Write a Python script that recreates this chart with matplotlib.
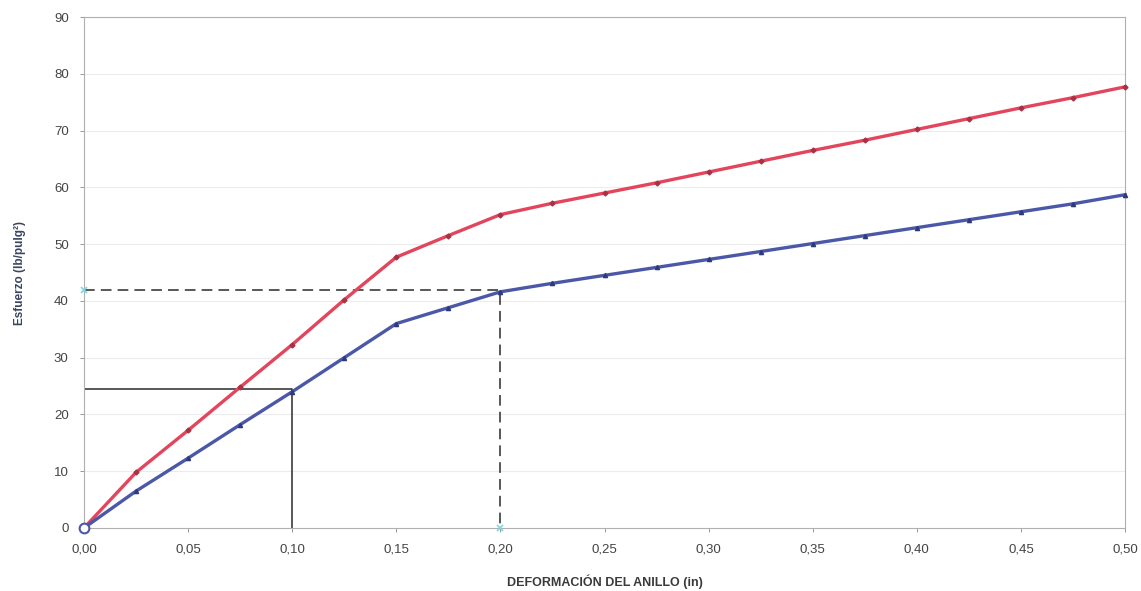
import numpy as np
import matplotlib.pyplot as plt
from matplotlib.ticker import FuncFormatter

plt.rcParams['font.family'] = ['Liberation Sans', 'DejaVu Sans']

# deformation of the ring (in)
deformacion = [0.0, 0.025, 0.05, 0.075, 0.10, 0.125, 0.15, 0.175, 0.20, 0.225, 0.25,
               0.275, 0.30, 0.325, 0.35, 0.375, 0.40, 0.425, 0.45, 0.475, 0.50]

# stress curves (lb/pulg2)
esfuerzo_rojo = [0.0, 9.8, 17.2, 24.8, 32.3, 40.2, 47.7, 51.5, 55.2, 57.2, 59.0,
                 60.8, 62.7, 64.6, 66.5, 68.3, 70.2, 72.1, 74.0, 75.8, 77.7]
esfuerzo_azul = [0.0, 6.5, 12.3, 18.2, 24.0, 30.0, 36.0, 38.8, 41.6, 43.1, 44.5,
                 45.9, 47.3, 48.7, 50.1, 51.5, 52.9, 54.3, 55.7, 57.1, 58.7]

# reference readings
ref_solida = (0.10, 24.4)
ref_discontinua = (0.20, 42.0)

x_ticks = [0.0, 0.05, 0.10, 0.15, 0.20, 0.25, 0.30, 0.35, 0.40, 0.45, 0.50]
y_ticks = [0, 10, 20, 30, 40, 50, 60, 70, 80, 90]

fig = plt.figure(figsize=(11.41, 5.91), dpi=100)
ax = fig.add_axes([0.0736, 0.1066, 0.9124, 0.8646])

# faint horizontal grid (barely visible in the scan)
for yt in y_ticks[1:]:
    ax.axhline(yt, color='#ececec', lw=0.8, zorder=0)

# reference construction lines
xs, ys = ref_solida
ax.plot([0, xs, xs], [ys, ys, 0], color='#2a2a2a', lw=1.1, zorder=2)
xd, yd = ref_discontinua
ax.plot([0, xd, xd], [yd, yd, 0], color='#2a2a2a', lw=1.1, ls=(0, (7, 4)), zorder=2)
ax.plot([0, xd], [yd, 0], ls='none', marker='x', ms=5, mew=1.2, color='#7fd6e0', zorder=4,
        clip_on=False)

ax.plot(deformacion, esfuerzo_rojo, color='#e2455c', lw=2.4, marker='D', ms=2.5,
        mfc='#a83245', mec='#a83245', zorder=3, clip_on=False)
ax.plot(deformacion, esfuerzo_azul, color='#4b58a8', lw=2.4, marker='^', ms=3,
        mfc='#2f3a78', mec='#2f3a78', zorder=3, clip_on=False)
ax.plot([0], [0], ls='none', marker='o', ms=7, mfc='white', mec='#4b58a8', mew=1.5,
        zorder=5, clip_on=False)

ax.set_xlim(0, 0.50)
ax.set_ylim(0, 90)
ax.set_xticks(x_ticks)
ax.set_yticks(y_ticks)
ax.xaxis.set_major_formatter(FuncFormatter(lambda v, p: f"{v:.2f}".replace('.', ',')))
ax.tick_params(axis='both', labelsize=9.5, colors='#888888', length=3, width=0.6,
               labelcolor='#444444')
ax.tick_params(axis='x', pad=8)
ax.tick_params(axis='y', pad=8)

for s in ax.spines.values():
    s.set_color('#b0b0b0')
    s.set_linewidth(0.8)

ax.set_xlabel('DEFORMACIÓN DEL ANILLO (in)', fontsize=9, fontweight='bold',
              color='#3a3a3a', labelpad=14)
ax.set_ylabel('Esfuerzo (lb/pulg²)', fontsize=8.5, fontweight='bold', color='#3a4660',
              labelpad=20)

fig.savefig('out.png', dpi=100)
